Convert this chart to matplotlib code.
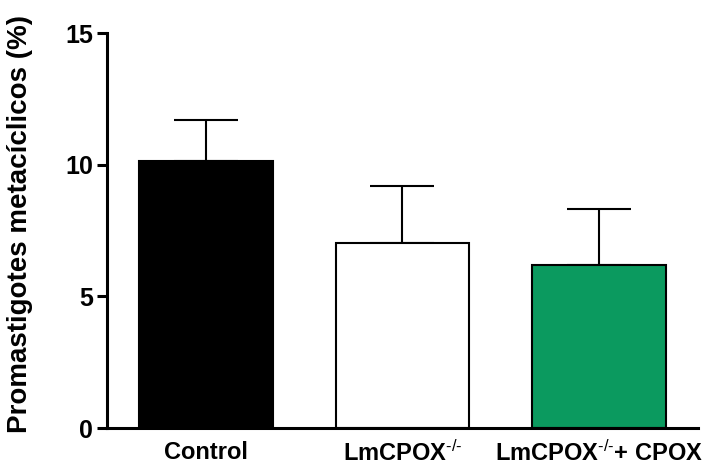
import matplotlib
matplotlib.use("Agg")
import matplotlib.pyplot as plt

plt.rcParams['font.family'] = ['Liberation Sans', 'DejaVu Sans']
plt.rcParams['mathtext.fontset'] = 'custom'
plt.rcParams['mathtext.rm'] = 'Liberation Sans'
plt.rcParams['mathtext.bf'] = 'Liberation Sans:bold'
plt.rcParams['mathtext.default'] = 'regular'

categories = ['Control', r'LmCPOX$^{\text{-/-}}$', r'LmCPOX$^{\text{-/-}}$+ CPOX']
means = [10.15, 7.03, 6.19]
errors = [1.55, 2.16, 2.13]
colors = ['#000000', '#ffffff', '#0b9a5f']

fig = plt.figure(figsize=(7.1, 4.66), dpi=100)
ax = fig.add_axes([0.1507, 0.0815, 0.832, 0.8475])

x = range(len(categories))
ax.bar(x, means, width=0.68, color=colors, edgecolor='black', linewidth=1.5, zorder=2)
ax.errorbar(x, means, yerr=[[0] * len(means), errors], fmt='none', ecolor='black',
            elinewidth=1.5, capsize=23, capthick=1.5, zorder=1)

ax.set_xlim(-0.504, 2.504)
ax.set_ylim(0, 15)
ax.set_yticks([0, 5, 10, 15])
ax.set_xticks(list(x))
ax.set_xticklabels(categories, fontsize=17, fontweight='bold')
for lbl in ax.get_yticklabels():
    lbl.set_fontsize(18)
    lbl.set_fontweight('bold')
ax.tick_params(axis='x', length=0, pad=9)
ax.tick_params(axis='y', length=7, width=2.2, pad=3)
for side in ['top', 'right']:
    ax.spines[side].set_visible(False)
for side in ['left', 'bottom']:
    ax.spines[side].set_linewidth(2.2)

ax.set_ylabel('Promastigotes metacíclicos (%)', fontsize=20, fontweight='bold')
ax.yaxis.set_label_coords(-0.125, 0.516)

fig.savefig('out.png', dpi=100)
